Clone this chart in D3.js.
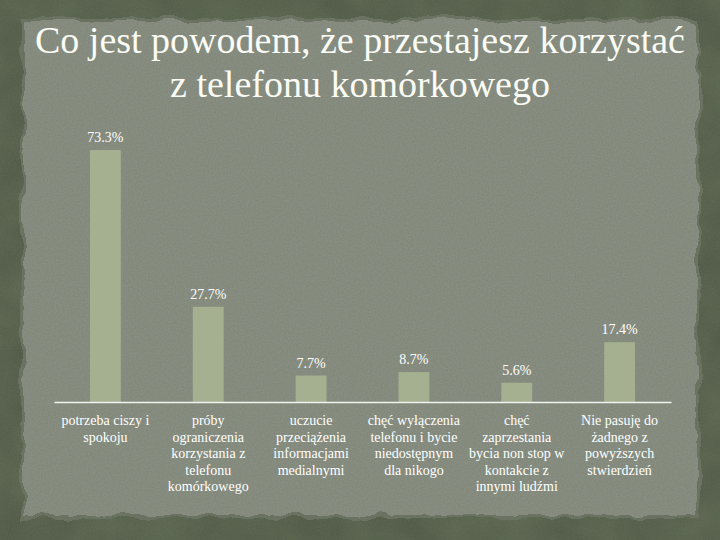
<!DOCTYPE html>
<html>
<head>
<meta charset="utf-8">
<script src="https://cdn.jsdelivr.net/npm/d3@7"></script>
<style>
  html, body { margin: 0; padding: 0; background: #5a6450; }
  svg { display: block; }
</style>
</head>
<body>
<svg width="720" height="540"></svg>
<script>
let width = 720;
let height = 540;

// data
let titleLines = ["Co jest powodem, że przestajesz korzystać", "z telefonu komórkowego"];
let categories = [
    "potrzeba ciszy i spokoju",
    "próby ograniczenia korzystania z telefonu komórkowego",
    "uczucie przeciążenia informacjami medialnymi",
    "chęć wyłączenia telefonu i bycie niedostępnym dla nikogo",
    "chęć zaprzestania bycia non stop w kontakcie z innymi ludźmi",
    "Nie pasuję do żadnego z powyższych stwierdzień"
];
let categoryLines = [
    ["potrzeba ciszy i", "spokoju"],
    ["próby", "ograniczenia", "korzystania z", "telefonu", "komórkowego"],
    ["uczucie", "przeciążenia", "informacjami", "medialnymi"],
    ["chęć wyłączenia", "telefonu i bycie", "niedostępnym", "dla nikogo"],
    ["chęć", "zaprzestania", "bycia non stop w", "kontakcie z", "innymi ludźmi"],
    ["Nie pasuję do", "żadnego z", "powyższych", "stwierdzień"]
];
let values = [73.3, 27.7, 7.7, 8.7, 5.6, 17.4];
let valueLabels = ["73.3%", "27.7%", "7.7%", "8.7%", "5.6%", "17.4%"];

let margin = { top: 127, right: 49, bottom: 138, left: 54 };

let svg = d3.select("svg");
let defs = svg.append("defs");

// rough torn edge for the paper
let rough = defs.append("filter").attr("id", "rough")
    .attr("x", "-5%").attr("y", "-5%").attr("width", "110%").attr("height", "110%");
rough.append("feTurbulence").attr("type", "fractalNoise")
    .attr("baseFrequency", "0.035").attr("numOctaves", 3).attr("seed", 4).attr("result", "noise");
rough.append("feDisplacementMap").attr("in", "SourceGraphic").attr("in2", "noise")
    .attr("scale", 12).attr("xChannelSelector", "R").attr("yChannelSelector", "G");

// grain texture
let grain = defs.append("filter").attr("id", "grain");
grain.append("feTurbulence").attr("type", "fractalNoise")
    .attr("baseFrequency", "0.6").attr("numOctaves", 2).attr("seed", 7);
grain.append("feColorMatrix").attr("type", "matrix")
    .attr("values", "0 0 0 0 0  0 0 0 0 0  0 0 0 0 0  0 0 0 0.10 0");

let mottle = defs.append("filter").attr("id", "mottle");
mottle.append("feTurbulence").attr("type", "fractalNoise")
    .attr("baseFrequency", "0.02").attr("numOctaves", 3).attr("seed", 2);
mottle.append("feColorMatrix").attr("type", "matrix")
    .attr("values", "0 0 0 0 0.2  0 0 0 0 0.25  0 0 0 0 0.15  0 0 0 0.5 -0.1");

// background frame
svg.append("rect").attr("width", width).attr("height", height).attr("fill", "#59634f");
svg.append("rect").attr("width", width).attr("height", height).attr("filter", "url(#mottle)");

// paper
svg.append("rect")
    .attr("x", 21).attr("y", 18).attr("width", 678).attr("height", 500)
    .attr("fill", "#6f7866").attr("filter", "url(#rough)");
svg.append("rect")
    .attr("x", 24).attr("y", 21).attr("width", 672).attr("height", 494)
    .attr("fill", "#8c9385").attr("filter", "url(#rough)");
svg.append("rect")
    .attr("x", 24).attr("y", 21).attr("width", 672).attr("height", 494)
    .attr("filter", "url(#grain)");

// title
svg.append("g").selectAll("text")
    .data(titleLines)
    .join("text")
    .attr("x", width / 2)
    .attr("y", (d, i) => 53 + i * 44)
    .attr("text-anchor", "middle")
    .style("font-family", "'Liberation Serif', 'DejaVu Serif', serif")
    .style("font-size", "38px")
    .style("fill", "#fbfbf6")
    .text(d => d);

// scales
let x = d3.scaleBand()
    .domain(categories)
    .range([margin.left, width - margin.right])
    .paddingInner(0.7)
    .paddingOuter(0.35);

let y = d3.scaleLinear()
    .domain([0, 80])
    .range([height - margin.bottom, margin.top]);

let data = categories.map((c, i) => ({ cat: c, value: values[i], label: valueLabels[i], lines: categoryLines[i] }));

// bars
svg.append("g")
    .selectAll("rect")
    .data(data)
    .join("rect")
    .attr("x", d => x(d.cat))
    .attr("y", d => y(d.value))
    .attr("width", x.bandwidth())
    .attr("height", d => y(0) - y(d.value))
    .style("fill", "#a4b08f");

// value labels
svg.append("g")
    .selectAll("text")
    .data(data)
    .join("text")
    .attr("x", d => x(d.cat) + x.bandwidth() / 2)
    .attr("y", d => y(d.value) - 8)
    .attr("text-anchor", "middle")
    .style("font-family", "'Liberation Serif', serif")
    .style("font-size", "14px")
    .style("fill", "#ffffff")
    .text(d => d.label);

// x axis (line only)
let xAxis = d3.axisBottom(x).tickSize(0).tickFormat("");
let xAxisG = svg.append("g")
    .attr("transform", `translate(0,${y(0)})`)
    .call(xAxis);
xAxisG.select(".domain").attr("stroke", "#f2f2ee").attr("stroke-width", 1.5);

// category labels
let catLabels = svg.append("g")
    .selectAll("text")
    .data(data)
    .join("text")
    .attr("x", d => x(d.cat) + x.bandwidth() / 2)
    .attr("y", y(0) + 23)
    .attr("text-anchor", "middle")
    .style("font-family", "'Liberation Serif', serif")
    .style("font-size", "14px")
    .style("fill", "#ffffff");

catLabels.selectAll("tspan")
    .data(d => d.lines)
    .join("tspan")
    .attr("x", function() { return d3.select(this.parentNode).attr("x"); })
    .attr("dy", (d, i) => i === 0 ? 0 : 16.5)
    .text(d => d);
</script>
</body>
</html>
